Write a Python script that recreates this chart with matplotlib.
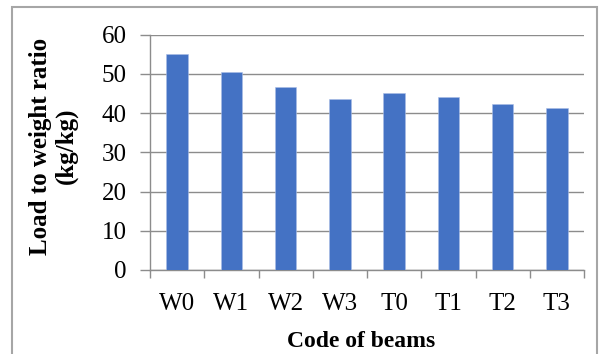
import matplotlib
matplotlib.use("Agg")
import matplotlib.pyplot as plt
from matplotlib.patches import Rectangle
import numpy as np

categories = ["W0", "W1", "W2", "W3", "T0", "T1", "T2", "T3"]
values = [55.0, 50.4, 46.6, 43.6, 45.1, 44.2, 42.3, 41.3]
yticks = [0, 10, 20, 30, 40, 50, 60]

plt.rcParams['font.family'] = ['Liberation Serif', 'DejaVu Serif']

W, H = 599, 354
fig = plt.figure(figsize=(W/100, H/100), dpi=100)
ax = fig.add_axes([150/W, 1-270/H, (584-150)/W, (270-34.8)/H])

x = np.arange(len(categories))
ax.bar(x, values, width=0.4, color='#4472C4', edgecolor='#a9bde6', linewidth=0.4, zorder=3)

ax.set_xlim(-0.5, len(categories)-0.5)
ax.set_ylim(0, 60)
ax.set_yticks(yticks)
ax.set_yticklabels([str(v) for v in yticks], fontsize=18)
ax.grid(axis='y', color='#8c8c8c', linewidth=1.0, zorder=0)
ax.set_axisbelow(True)

ax.set_xticks(x)
ax.set_xticklabels(categories, fontsize=18)
ax.set_xticks(np.arange(-0.5, len(categories), 1.0), minor=True)
ax.tick_params(axis='x', which='major', length=0, pad=16.5)
ax.tick_params(axis='x', which='minor', length=6, color='#8c8c8c', width=1.0, direction='out')
ax.tick_params(axis='y', length=7, color='#8c8c8c', width=1.0, pad=10)

for s in ['top', 'right']:
    ax.spines[s].set_visible(False)
for s in ['left', 'bottom']:
    ax.spines[s].set_color('#8c8c8c')
    ax.spines[s].set_linewidth(1.0)

ax.set_xlabel("Code of beams", fontsize=17, fontweight='bold')
ax.xaxis.set_label_coords(0.486, -0.26)
ax.set_ylabel("Load to weight ratio\n(kg/kg)", fontsize=18, fontweight='bold', linespacing=1.15)
ax.yaxis.set_label_coords(-0.166, 0.527)

# outer chart border
fig.add_artist(Rectangle((12/W, -0.05), (597-12)/W, 1.05 - 6.5/H, transform=fig.transFigure,
                         fill=False, edgecolor='#a6a6a6', linewidth=1.5))

fig.savefig("out.png", dpi=100)
